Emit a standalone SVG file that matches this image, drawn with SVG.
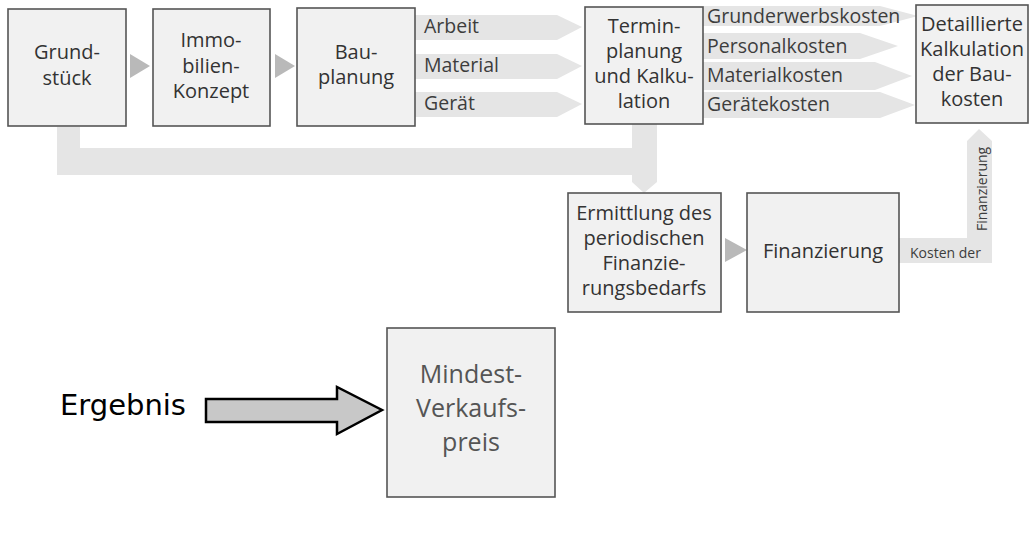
<svg xmlns="http://www.w3.org/2000/svg" width="1030" height="544" viewBox="0 0 1030 544">
<style>
.box{fill:#f1f1f1;stroke:#555;stroke-width:1.6}
.band{fill:#e5e5e5}
.tri{fill:#b9b9b9}
.t{font-family:"Open Sans","Noto Sans",sans-serif;font-size:20px;fill:#333;text-anchor:middle}
.bl{font-family:"Open Sans","Noto Sans",sans-serif;font-size:19.5px;fill:#3d3d3d}
.sm{font-family:"Open Sans","Noto Sans",sans-serif;font-size:14px;fill:#3d3d3d}
.big{font-family:"Open Sans","Noto Sans",sans-serif;font-size:25px;fill:#555;text-anchor:middle}
</style>
<rect width="1030" height="544" fill="#fff"/>
<g id="connectors">
  <polygon class="band" points="415,15 557,15 582,27 557,40 415,40"/>
  <polygon class="band" points="415,54 557,54 582,66 557,79 415,79"/>
  <polygon class="band" points="415,92 557,92 582,104 557,117 415,117"/>
  <polygon class="band" points="703,6 880,6 918,16 880,26 703,26"/>
  <polygon class="band" points="703,33 860,33 898,46 860,59 703,59"/>
  <polygon class="band" points="703,62 875,62 912,76 875,90 703,90"/>
  <polygon class="band" points="703,92 880,92 915,105 880,118 703,118"/>
  <polygon class="band" points="57,127 80,127 80,148 632,148 632,124 657,124 657,182 644,193 632,182 632,175 57,175"/>
  <polygon class="band" points="899,238 967,238 967,141 979,129 992,141 992,263 899,263"/>
  <polygon class="tri" points="130,54 150,66 130,78"/>
  <polygon class="tri" points="275,54 295,66 275,78"/>
  <polygon class="tri" points="725,238 747,250 725,262"/>
  <polygon points="206,399 337,399 337,387 382,410 337,434 337,422 206,422" fill="#c8c8c8" stroke="#000" stroke-width="2.5" stroke-linejoin="miter"/>
  <text class="bl" x="424" y="33">Arbeit</text>
  <text class="bl" x="424" y="72">Material</text>
  <text class="bl" x="424" y="110">Gerät</text>
  <text class="bl" x="707" y="23">Grunderwerbskosten</text>
  <text class="bl" x="707" y="53">Personalkosten</text>
  <text class="bl" x="707" y="82">Materialkosten</text>
  <text class="bl" x="707" y="111">Gerätekosten</text>
  <text class="sm" x="910" y="258">Kosten der</text>
  <text class="sm" transform="translate(987,231) rotate(-90)">Finanzierung</text>
</g>
<g id="grundstueck">
  <rect class="box" x="8" y="9" width="118" height="117"/>
  <text class="t" x="67" y="59">Grund-</text>
  <text class="t" x="67" y="85">stück</text>
</g>
<g id="immobilien">
  <rect class="box" x="153" y="9" width="117" height="117"/>
  <text class="t" x="211" y="47">Immo-</text>
  <text class="t" x="211" y="73">bilien-</text>
  <text class="t" x="211" y="98">Konzept</text>
</g>
<g id="bauplanung">
  <rect class="box" x="297" y="8" width="118" height="118"/>
  <text class="t" x="356" y="59">Bau-</text>
  <text class="t" x="356" y="84">planung</text>
</g>
<g id="termin">
  <rect class="box" x="585" y="7" width="118" height="117"/>
  <text class="t" x="644" y="33">Termin-</text>
  <text class="t" x="644" y="58">planung</text>
  <text class="t" x="644" y="83">und Kalku-</text>
  <text class="t" x="644" y="108">lation</text>
</g>
<g id="detailliert">
  <rect class="box" x="916" y="5" width="112" height="118"/>
  <text class="t" x="972" y="31">Detaillierte</text>
  <text class="t" x="972" y="56">Kalkulation</text>
  <text class="t" x="972" y="81">der Bau-</text>
  <text class="t" x="972" y="106">kosten</text>
</g>
<g id="ermittlung">
  <rect class="box" x="568" y="193" width="153" height="119"/>
  <text class="t" x="644" y="220">Ermittlung des</text>
  <text class="t" x="644" y="245">periodischen</text>
  <text class="t" x="644" y="270">Finanzie-</text>
  <text class="t" x="644" y="295">rungsbedarfs</text>
</g>
<g id="finanzierung">
  <rect class="box" x="747" y="193" width="152" height="119"/>
  <text class="t" x="823" y="258">Finanzierung</text>
</g>
<g id="mindest">
  <rect class="box" x="387" y="328" width="168" height="169"/>
  <text class="big" x="471" y="383">Mindest-</text>
  <text class="big" x="471" y="417">Verkaufs-</text>
  <text class="big" x="471" y="451">preis</text>
</g>
<g id="ergebnis">
  <text x="60" y="415" font-family="DejaVu Sans,Verdana,sans-serif" font-size="29" fill="#000">Ergebnis</text>
</g>
</svg>
